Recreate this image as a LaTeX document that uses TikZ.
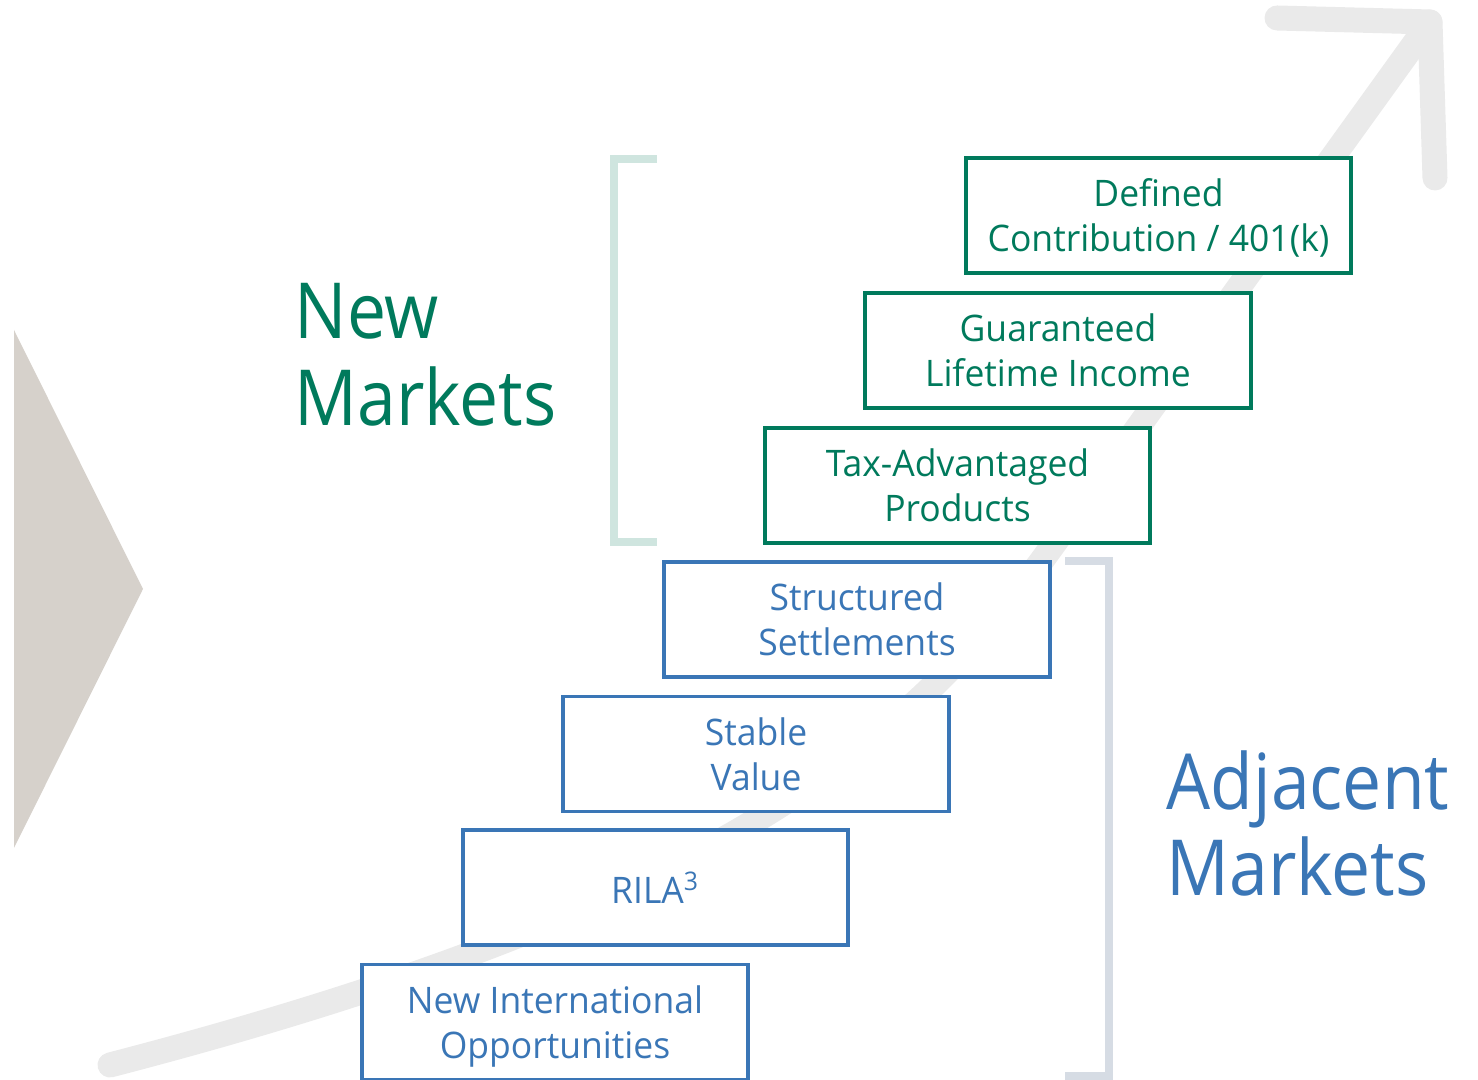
\documentclass[tikz,border=0pt]{standalone}
\usepackage{fontspec}
\setmainfont{Open Sans}
\newfontfamily\boxfont[FakeStretch=0.97]{Open Sans}
\newfontfamily\bigfont[FakeStretch=0.9]{Open Sans}
\usepackage{tikz}
\usetikzlibrary{positioning, calc}

\definecolor{mgreen}{HTML}{007A5C}
\definecolor{mblue}{HTML}{3A76B6}
\definecolor{arrowgray}{HTML}{EAEAEA}
\definecolor{wedgegray}{HTML}{D6D1CB}
\definecolor{greenbrk}{HTML}{CFE5DF}
\definecolor{bluebrk}{HTML}{D6DCE4}

\begin{document}
\begin{tikzpicture}[x=0.01cm, y=-0.01cm,
    stepbox/.style={draw, fill=white, line width=1.1pt, minimum width=3.85cm,
        minimum height=1.15cm, align=center, inner sep=0pt, text depth=0pt,
        font=\boxfont\fontsize{10.4pt}{12.8pt}\selectfont},
    greenbox/.style={stepbox, draw=mgreen, text=mgreen},
    bluebox/.style={stepbox, draw=mblue, text=mblue},
    bigtext/.style={align=left, inner sep=0pt, anchor=north west,
        font=\bigfont\fontsize{22pt}{24.5pt}\selectfont},
    bracket/.style={line width=0.08cm}]
    \useasboundingbox (0,0) rectangle (1478,1080);

    % background shapes
    \fill[wedgegray] (14,330) -- (143,589) -- (14,848) -- cycle;
    \coordinate (start) at (110,1065);
    \coordinate (join) at (1051,548);
    \coordinate (tip) at (1430,22);
    \draw[arrowgray, line width=0.25cm, line cap=round, line join=round]
        (start) .. controls (710,909) and (907,748) .. (join) -- (tip);
    \draw[arrowgray, line width=0.25cm, line cap=round, line join=round]
        (1277,18) -- (tip) -- (1435,178);

    % steps
    \node[bluebox] (newintl) at (555,1022) {New International\\Opportunities};
    \node[bluebox] (rila) at (655.5,887.5) {RILA\textsuperscript{3}};
    \node[bluebox] (stable) at (756,754) {Stable\\Value};
    \node[bluebox] (structured) at (857,619.5) {Structured\\Settlements};
    \node[greenbox] (taxadv) at (957.5,485.5) {Tax-Advantaged\\Products};
    \node[greenbox] (guaranteed) at (1058,350.5) {Guaranteed\\Lifetime Income};
    \node[greenbox] (defcontrib) at (1158.5,215.5) {Defined\\Contribution / 401(k)};

    % brackets
    \draw[bracket, greenbrk] (657,159) -- (614,159) -- (614,542) -- (657,542);
    \draw[bracket, bluebrk] (1065,561) -- (1109,561) -- (1109,1076) -- (1065,1076);

    % labels
    \node[bigtext, text=mgreen] (newmkt) at (294,283) {New\\Markets};
    \node[bigtext, text=mblue] (adjmkt) at (1166,750) {Adjacent\\Markets};
\end{tikzpicture}
\end{document}
